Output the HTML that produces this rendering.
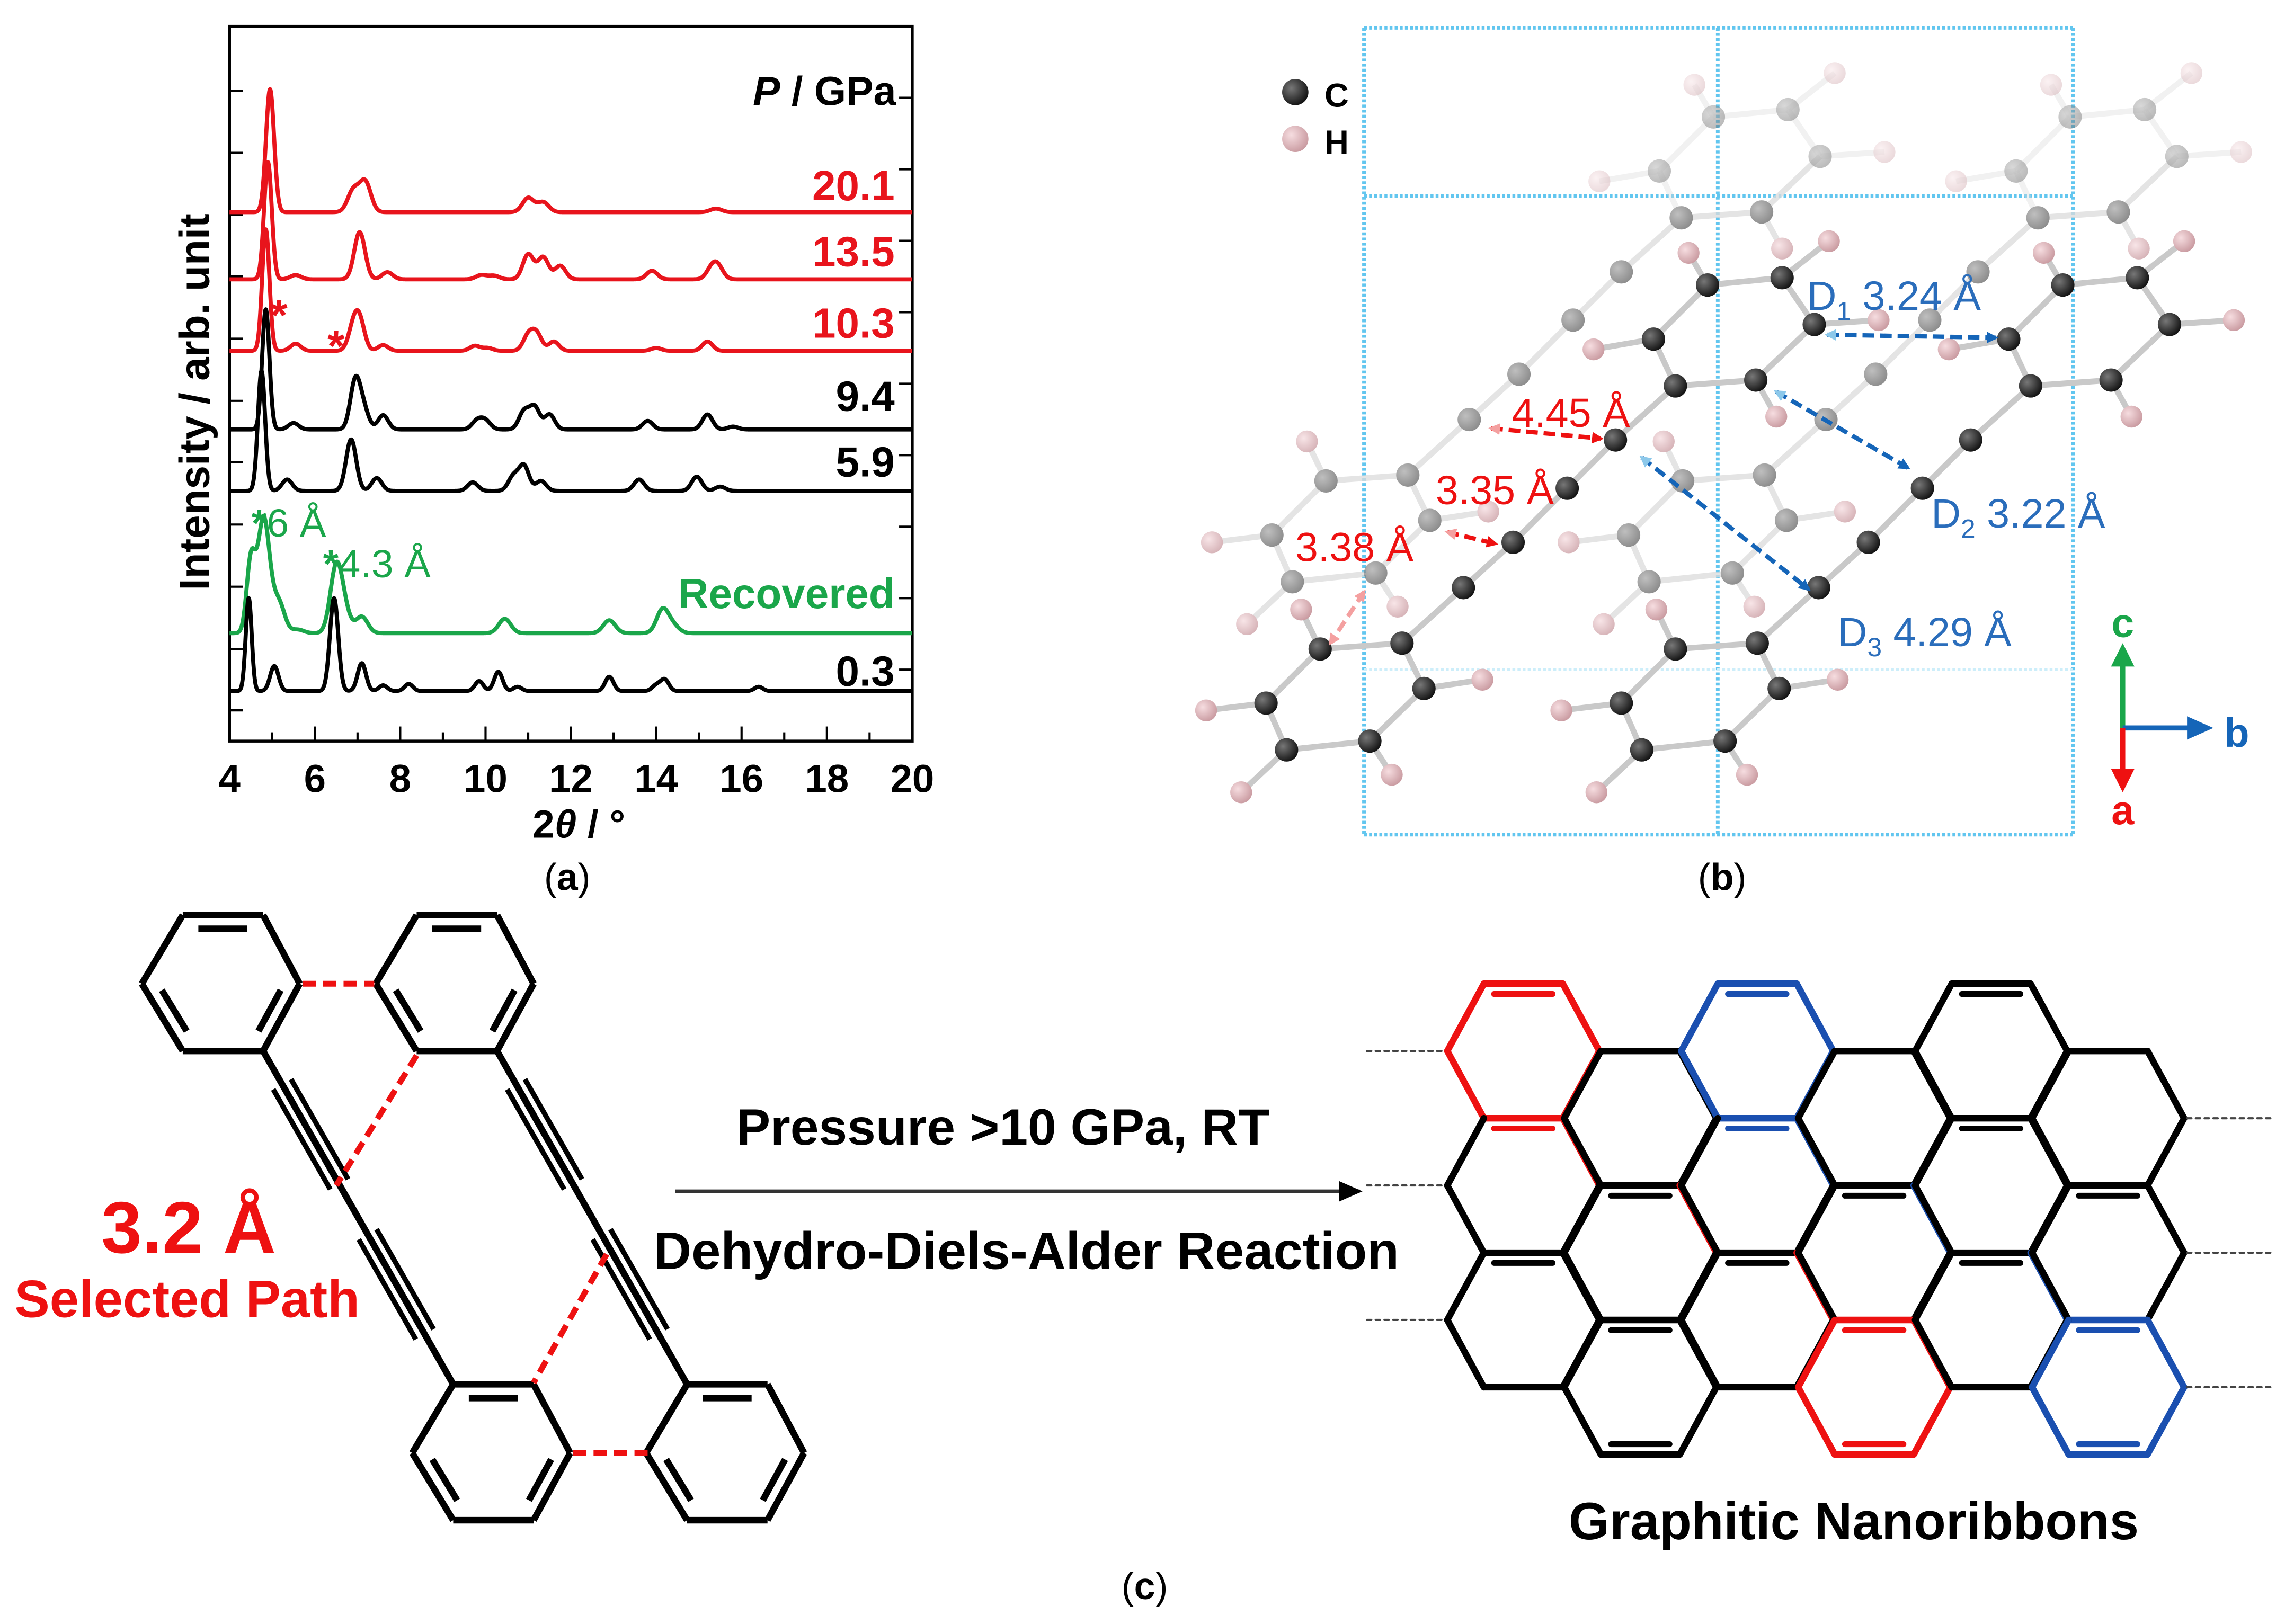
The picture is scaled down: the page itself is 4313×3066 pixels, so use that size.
<!DOCTYPE html>
<html><head><meta charset="utf-8"><style>
html,body{margin:0;padding:0;background:#fff;}
svg{display:block;}
text{font-family:"Liberation Sans",sans-serif;}
</style></head><body>
<svg id="root" width="4313" height="3066" viewBox="0 0 1563 1111" preserveAspectRatio="none" xmlns="http://www.w3.org/2000/svg">
<defs>
<radialGradient id="gc" cx="0.35" cy="0.35" r="0.7"><stop offset="0" stop-color="#777"/><stop offset="1" stop-color="#111"/></radialGradient>
<radialGradient id="gg" cx="0.35" cy="0.35" r="0.7"><stop offset="0" stop-color="#aaa"/><stop offset="1" stop-color="#666"/></radialGradient>
<radialGradient id="gh" cx="0.35" cy="0.35" r="0.7"><stop offset="0" stop-color="#f6dde0"/><stop offset="1" stop-color="#c99aa0"/></radialGradient>
<marker id="mBlue" markerWidth="8" markerHeight="8" refX="6" refY="4" orient="auto" markerUnits="userSpaceOnUse"><path d="M0,0 L8,4 L0,8 z" fill="#1565b8"/></marker>
<marker id="mLBlue" markerWidth="8" markerHeight="8" refX="6" refY="4" orient="auto-start-reverse" markerUnits="userSpaceOnUse"><path d="M0,0 L8,4 L0,8 z" fill="#8cc8ea"/></marker>
<marker id="mRed" markerWidth="8" markerHeight="8" refX="6" refY="4" orient="auto" markerUnits="userSpaceOnUse"><path d="M0,0 L8,4 L0,8 z" fill="#e11"/></marker>
<marker id="mLRed" markerWidth="8" markerHeight="8" refX="6" refY="4" orient="auto-start-reverse" markerUnits="userSpaceOnUse"><path d="M0,0 L8,4 L0,8 z" fill="#f4a0a0"/></marker>
<marker id="mArrow" markerWidth="16" markerHeight="14" refX="14" refY="7" orient="auto" markerUnits="userSpaceOnUse"><path d="M0,0 L16,7 L0,14 z" fill="#000"/></marker>
</defs>

<!-- Panel A -->
<g id="panelA">
  <rect x="157" y="18" width="467" height="489" fill="none" stroke="#000" stroke-width="2"/>
  <g id="xticks"></g>
  <g id="yticks"></g>
  <g id="traces"></g>
  <text x="396" y="573" font-size="27" font-weight="bold" text-anchor="middle">2<tspan font-style="italic">θ</tspan> / °</text>
  <text transform="translate(143,275) rotate(-90)" font-size="29" font-weight="bold" text-anchor="middle">Intensity / arb. unit</text>
  <text x="613" y="72" font-size="28" font-weight="bold" text-anchor="end"><tspan font-style="italic">P</tspan> / GPa</text>
  <text x="185" y="226" font-size="30" font-weight="bold" fill="#e8141c">*</text>
  <text x="224" y="247" font-size="30" font-weight="bold" fill="#e8141c">*</text>
  <text x="172" y="367" font-size="27" fill="#1aa64a"><tspan font-weight="bold">*</tspan>6 Å</text>
  <text x="221" y="395" font-size="27" fill="#1aa64a"><tspan font-weight="bold">*</tspan>4.3 Å</text>
  <text x="388" y="609" font-size="26" text-anchor="middle" font-family="Liberation Serif,serif">(<tspan font-weight="bold">a</tspan>)</text>
</g>

<!-- Panel B -->
<g id="panelB">
  <g id="cell" stroke="#62c6ef" stroke-width="2.5" stroke-dasharray="2 1.5" fill="none">
    <line x1="933" y1="19" x2="933" y2="571"/><line x1="1175" y1="19" x2="1175" y2="571"/><line x1="1418" y1="19" x2="1418" y2="571"/>
    <line x1="933" y1="19" x2="1418" y2="19"/><line x1="933" y1="134" x2="1418" y2="134"/><line x1="933" y1="571" x2="1418" y2="571"/>
    <line x1="933" y1="458" x2="1418" y2="458" stroke="#cdeefa" stroke-width="1.5"/>
  </g>
  <g id="mols"></g>
  <circle cx="886" cy="63" r="9" fill="url(#gc)"/>
  <text x="906" y="73" font-size="23" font-weight="bold">C</text>
  <circle cx="886" cy="95" r="9" fill="url(#gh)"/>
  <text x="906" y="105" font-size="23" font-weight="bold">H</text>
  <g stroke-width="3" stroke-dasharray="8 4" fill="none">
    <line x1="1250" y1="229" x2="1365" y2="231" stroke="#1565b8" marker-end="url(#mBlue)" marker-start="url(#mLBlue)"/>
    <line x1="1215" y1="268" x2="1305" y2="320" stroke="#1565b8" marker-end="url(#mBlue)" marker-start="url(#mLBlue)"/>
    <line x1="1123" y1="313" x2="1237" y2="403" stroke="#1565b8" marker-end="url(#mBlue)" marker-start="url(#mLBlue)"/>
    <line x1="1020" y1="293" x2="1095" y2="300" stroke="#e11" marker-end="url(#mRed)" marker-start="url(#mLRed)"/>
    <line x1="990" y1="364" x2="1023" y2="372" stroke="#e11" marker-end="url(#mRed)" marker-start="url(#mLRed)"/>
    <line x1="933" y1="405" x2="910" y2="440" stroke="#f4a0a0" marker-end="url(#mLRed)" marker-start="url(#mLRed)"/>
  </g>
  <text x="1236" y="212" font-size="28" fill="#2a6dbb">D<tspan font-size="18" dy="7">1</tspan><tspan dy="-7"> 3.24 Å</tspan></text>
  <text x="1321" y="361" font-size="28" fill="#2a6dbb">D<tspan font-size="18" dy="7">2</tspan><tspan dy="-7"> 3.22 Å</tspan></text>
  <text x="1257" y="442" font-size="28" fill="#2a6dbb">D<tspan font-size="18" dy="7">3</tspan><tspan dy="-7"> 4.29 Å</tspan></text>
  <text x="1034" y="292" font-size="28" fill="#e11">4.45 Å</text>
  <text x="982" y="345" font-size="28" fill="#e11">3.35 Å</text>
  <text x="886" y="384" font-size="28" fill="#e11">3.38 Å</text>
  <g stroke-width="3.5" fill="none">
    <line x1="1452" y1="498" x2="1452" y2="450" stroke="#1aa64a"/>
    <path d="M1444,456 L1452,440 L1460,456 z" fill="#1aa64a" stroke="none"/>
    <line x1="1452" y1="498" x2="1500" y2="498" stroke="#1565b8"/>
    <path d="M1496,490 L1514,498 L1496,506 z" fill="#1565b8" stroke="none"/>
    <line x1="1452" y1="498" x2="1452" y2="530" stroke="#e11"/>
    <path d="M1444,526 L1452,542 L1460,526 z" fill="#e11" stroke="none"/>
  </g>
  <text x="1452" y="436" font-size="28" font-weight="bold" fill="#1aa64a" text-anchor="middle">c</text>
  <text x="1530" y="511" font-size="28" font-weight="bold" fill="#1565b8" text-anchor="middle">b</text>
  <text x="1452" y="564" font-size="28" font-weight="bold" fill="#e11" text-anchor="middle">a</text>
  <text x="1178" y="609" font-size="26" text-anchor="middle" font-family="Liberation Serif,serif">(<tspan font-weight="bold">b</tspan>)</text>
</g>

<!-- Panel C -->
<g id="panelC">
  <g id="leftMol" stroke="#000" stroke-width="4.5" fill="none" stroke-linejoin="round"></g>
  <g stroke="#e11" stroke-width="4" stroke-dasharray="9 5">
    <line x1="207" y1="673" x2="256" y2="673"/><line x1="285" y1="722" x2="230" y2="811"/>
    <line x1="415" y1="858" x2="365" y2="946"/><line x1="392" y1="994" x2="443" y2="994"/>
  </g>
  <text x="129" y="857" font-size="50" font-weight="bold" fill="#e11" text-anchor="middle">3.2 Å</text>
  <text x="128" y="901" font-size="36" font-weight="bold" fill="#e11" text-anchor="middle">Selected Path</text>
  <line x1="462" y1="815" x2="930" y2="815" stroke="#333" stroke-width="2.5" marker-end="url(#mArrow)"/>
  <text x="686" y="783" font-size="35" font-weight="bold" text-anchor="middle">Pressure &gt;10 GPa, RT</text>
  <text x="702" y="868" font-size="36" font-weight="bold" text-anchor="middle">Dehydro-Diels-Alder Reaction</text>
  <g id="ribbon" stroke-width="4.5" fill="none" stroke-linecap="round"></g>
  <text x="1268" y="1053" font-size="36" font-weight="bold" text-anchor="middle">Graphitic Nanoribbons</text>
  <text x="783" y="1094" font-size="26" text-anchor="middle" font-family="Liberation Serif,serif">(<tspan font-weight="bold">c</tspan>)</text>
</g>
</svg>
<script>
const NS='http://www.w3.org/2000/svg';
// ---- chart data ----
const seriesNames=['20.1','13.5','10.3','9.4','5.9','Recovered','0.3'];
const seriesColors=['#e8141c','#e8141c','#e8141c','#000','#000','#1aa64a','#000'];
const baselines=[74.0,64.6,54.6,43.6,35.0,15.1,7.0];
const peaks201=[4.95,6.9,7.18,11.0,11.35,15.4];
const heights201=[17.2,3.0,4.2,2.0,1.4,0.5];
const peaks135=[4.9,5.55,7.05,7.7,9.9,10.2,11.0,11.35,11.75,13.9,15.3,15.45];
const heights135=[16.4,0.6,6.6,1.0,0.6,0.5,3.5,3.1,1.9,1.2,1.4,1.6];
const peaks103=[4.85,5.55,6.9,7.05,7.6,9.75,10.05,11.0,11.2,11.6,14.0,15.2];
const heights103=[17.0,1.0,3.0,3.9,0.8,0.7,0.4,2.1,2.3,1.3,0.4,1.3];
const peaks94=[4.85,5.5,6.95,7.15,7.6,9.8,10.0,10.9,11.15,11.5,13.8,15.2,15.8];
const heights94=[16.8,0.9,6.8,2.5,2.0,1.2,1.2,2.5,3.1,2.1,1.2,2.1,0.4];
const peaks59=[4.75,5.35,6.85,7.45,9.7,10.65,10.9,11.3,13.6,14.95,15.5];
const heights59=[16.8,1.6,7.2,1.8,1.2,2.0,3.5,1.4,1.6,2.0,0.6];
const peaksRec=[4.5,4.8,5.15,5.6,6.5,6.7,7.1,10.45,12.9,14.15,14.4];
const heightsRec=[9.8,16.0,4.3,0.5,9.0,2.5,2.3,2.0,1.8,3.3,1.0];
const peaks03=[4.45,5.05,6.45,7.1,7.6,8.2,9.85,10.3,10.75,12.9,14.0,14.2,16.4];
const heights03=[13.0,3.5,13.0,3.9,0.8,1.0,1.4,2.7,0.6,2.0,0.8,1.6,0.6];
const peakWidths=[0.095,0.09,0.085,0.085,0.085,0.1,0.07];
const xTickValues=[4,6,8,10,12,14,16,18,20];
const xMinorValues=[5,7,9,11,13,15,17,19];
const yLeftTicks=[91,82.3,73.6,65.0,56.3,47.6,39.0,30.3,21.6,12.9,4.3];
const yRightTicks=[90,80,70,60,50,40,30,20,10];
const labelY=[127,172,221,271,316,406,459];

const X0=157,X1=624,Y0=507,Y1=18;
function xs(v){return X0+(v-4)/(20-4)*(X1-X0);}
function ys(v){return Y0-v/100*(Y0-Y1);}

const allPeaks=[peaks201,peaks135,peaks103,peaks94,peaks59,peaksRec,peaks03];
const allHeights=[heights201,heights135,heights103,heights94,heights59,heightsRec,heights03];

const xt=document.getElementById('xticks');
xTickValues.forEach(v=>{
  const l=document.createElementNS(NS,'line');
  l.setAttribute('x1',xs(v));l.setAttribute('x2',xs(v));l.setAttribute('y1',Y0);l.setAttribute('y2',Y0-10);
  l.setAttribute('stroke','#000');l.setAttribute('stroke-width','1.5');
  
  
  xt.appendChild(l);
  const t=document.createElementNS(NS,'text');
  t.setAttribute('x',xs(v));t.setAttribute('y',542);t.setAttribute('font-size','27');t.setAttribute('font-weight','bold');t.setAttribute('text-anchor','middle');
  t.textContent=v;
  
  
  xt.appendChild(t);
});
xMinorValues.forEach(v=>{
  const l=document.createElementNS(NS,'line');
  l.setAttribute('x1',xs(v));l.setAttribute('x2',xs(v));l.setAttribute('y1',Y0);l.setAttribute('y2',Y0-6);
  l.setAttribute('stroke','#000');l.setAttribute('stroke-width','1.5');
  
  
  xt.appendChild(l);
});
const yt=document.getElementById('yticks');
yLeftTicks.forEach(v=>{
  const l=document.createElementNS(NS,'line');
  l.setAttribute('x1',X0);l.setAttribute('x2',X0+9);l.setAttribute('y1',ys(v));l.setAttribute('y2',ys(v));
  l.setAttribute('stroke','#000');l.setAttribute('stroke-width','1.5');
  
  
  yt.appendChild(l);
});
yRightTicks.forEach(v=>{
  const l=document.createElementNS(NS,'line');
  l.setAttribute('x1',X1);l.setAttribute('x2',X1-9);l.setAttribute('y1',ys(v));l.setAttribute('y2',ys(v));
  l.setAttribute('stroke','#000');l.setAttribute('stroke-width','1.5');
  
  
  yt.appendChild(l);
});
const tr=document.getElementById('traces');
seriesNames.forEach((name,i)=>{
  let d='';
  for(let x=4;x<=20.0001;x+=0.01){
    let v=baselines[i];
    const P=allPeaks[i],H=allHeights[i];
    for(let k=0;k<P.length;k++){const w=(k===0)?peakWidths[i]:peakWidths[i]*1.4;v+=H[k]*Math.exp(-0.5*Math.pow((x-P[k])/w,2));}
    d+=(d?'L':'M')+xs(x).toFixed(2)+','+ys(v).toFixed(2);
  }
  const p=document.createElementNS(NS,'path');
  p.setAttribute('d',d);p.setAttribute('fill','none');p.setAttribute('stroke',seriesColors[i]);p.setAttribute('stroke-width','2.8');p.setAttribute('stroke-linejoin','round');
  
  
  tr.appendChild(p);
  const t=document.createElementNS(NS,'text');
  t.setAttribute('x',612);t.setAttribute('y',labelY[i]+10);t.setAttribute('font-size','29');t.setAttribute('font-weight','bold');t.setAttribute('text-anchor','end');t.setAttribute('fill',seriesColors[i]);
  t.textContent=name;
  
  
  tr.appendChild(t);
});

// ---- panel B molecules ----
const ringL=[[0,0],[56,-4],[71,27],[34,63],[-23,69],[-37,37]];
const chain=[[98,-42],[132,-73],[169,-110],[202,-143]];
const ringU=[[243,-180],[298,-184],[338,-222],[316,-254],[265,-249],[228,-212]];
const hL=[[0,-13,-27],[2,40,-6],[3,15,23],[4,-31,29],[5,-41,5]];
const hU=[[1,14,25],[2,44,-3],[3,32,-25],[4,-13,-22],[5,-41,7]];
const mols=[[907,329,'g'],[1151,329,'g'],[903,444,'c'],[1146,444,'c']];
const mg=document.getElementById('mols');
mols.forEach(([ax,ay,type])=>{
  const g=document.createElementNS(NS,'g');
  
  
  if(type==='g')g.setAttribute('opacity','0.75');
  mg.appendChild(g);
  const P=a=>[ax+a[0],ay+a[1]];
  const bonds=[];const hs=[];
  const L=ringL.map(P),C=chain.map(P),U=ringU.map(P);
  for(let i=0;i<6;i++){bonds.push([L[i],L[(i+1)%6]]);bonds.push([U[i],U[(i+1)%6]]);}
  bonds.push([L[1],C[0]]);for(let i=0;i<3;i++)bonds.push([C[i],C[i+1]]);bonds.push([C[3],U[0]]);
  hL.forEach(h=>{const a=L[h[0]];const p=[a[0]+h[1],a[1]+h[2]];bonds.push([a,p]);hs.push(p);});
  hU.forEach(h=>{const a=U[h[0]];const p=[a[0]+h[1],a[1]+h[2]];bonds.push([a,p]);hs.push(p);});
  bonds.forEach(b=>{
    const l=document.createElementNS(NS,'line');
    l.setAttribute('x1',b[0][0]);l.setAttribute('y1',b[0][1]);l.setAttribute('x2',b[1][0]);l.setAttribute('y2',b[1][1]);
    l.setAttribute('stroke',type==='c'?'#c9c9c9':'#dcdcdc');l.setAttribute('stroke-width','4');
    if(b[0][1]<134&&type==='g')l.setAttribute('opacity','0.5');
    
    
    g.appendChild(l);
  });
  hs.forEach(p=>{
    const c=document.createElementNS(NS,'circle');
    c.setAttribute('cx',p[0]);c.setAttribute('cy',p[1]);c.setAttribute('r','7.5');c.setAttribute('fill','url(#gh)');
    if(p[1]<134&&type==='g')c.setAttribute('opacity','0.5');
    
    
    g.appendChild(c);
  });
  L.concat(C,U).forEach(p=>{
    const c=document.createElementNS(NS,'circle');
    c.setAttribute('cx',p[0]);c.setAttribute('cy',p[1]);c.setAttribute('r','8');c.setAttribute('fill',type==='c'?'url(#gc)':'url(#gg)');
    if(p[1]<134&&type==='g')c.setAttribute('opacity','0.6');
    
    
    g.appendChild(c);
  });
});

// ---- panel C left molecule ----
const lm=document.getElementById('leftMol');
function addLine(parent,x1,y1,x2,y2,color,w,name){
  const l=document.createElementNS(NS,'line');
  l.setAttribute('x1',x1);l.setAttribute('y1',y1);l.setAttribute('x2',x2);l.setAttribute('y2',y2);
  if(color)l.setAttribute('stroke',color);
  if(w)l.setAttribute('stroke-width',w);
  
  
  parent.appendChild(l);
}
const benzenes=[[125,626],[285,626],[310,947],[470,947]];
benzenes.forEach(([x,y])=>{
  const v=[[x,y],[x+55,y],[x+80,y+47],[x+55,y+93],[x,y+93],[x-28,y+47]];
  const cx=x+27,cy=y+47;
  for(let i=0;i<6;i++){
    const a=v[i],b=v[(i+1)%6];
    addLine(lm,a[0],a[1],b[0],b[1],null,null,'ring-bond');
    if(i%2===0){
      const s=0.8;const ia=[cx+(a[0]-cx)*s,cy+(a[1]-cy)*s],ib=[cx+(b[0]-cx)*s,cy+(b[1]-cy)*s];
      const f=0.12;
      addLine(lm,ia[0]+(ib[0]-ia[0])*f,ia[1]+(ib[1]-ia[1])*f,ib[0]-(ib[0]-ia[0])*f,ib[1]-(ib[1]-ia[1])*f,null,null,'double-bond-inner');
    }
  }
});
[[180,719,310,947],[340,719,470,947]].forEach(([x1,y1,x2,y2])=>{
  addLine(lm,x1,y1,x2,y2,null,null,'alkyne-chain');
  const dx=x2-x1,dy=y2-y1,len=Math.hypot(dx,dy),nx=-dy/len*7,ny=dx/len*7;
  [[0.1,0.4],[0.55,0.85]].forEach(([a,b])=>{
    addLine(lm,x1+dx*a+nx,y1+dy*a+ny,x1+dx*b+nx,y1+dy*b+ny,null,'3.5','triple-bond');
    addLine(lm,x1+dx*a-nx,y1+dy*a-ny,x1+dx*b-nx,y1+dy*b-ny,null,'3.5','triple-bond');
  });
});

// ---- panel C ribbon ----
const rb=document.getElementById('ribbon');
const colX=[1042,1122,1202,1282,1362,1442];
const edgeColor={};
function hexV(cx,cy){return [[cx-27,cy-46],[cx+27,cy-46],[cx+52,cy],[cx+27,cy+46],[cx-27,cy+46],[cx-52,cy]];}
function key(a,b){const p=[a.join(','),b.join(',')].sort();return p[0]+'|'+p[1];}
const hexes=[];
colX.forEach((cx,ci)=>{const yy=ci%2===0?[719,811,903]:[765,857,949];yy.forEach(cy=>hexes.push([cx,cy]));});
const edges={};
hexes.forEach(([cx,cy])=>{const v=hexV(cx,cy);for(let i=0;i<6;i++){edges[key(v[i],v[(i+1)%6])]=[v[i],v[(i+1)%6]];}});
const colored=[[1042,719,'#e11'],[1282,949,'#e11'],[1202,719,'#1a4fb0'],[1442,949,'#1a4fb0']];
colored.forEach(([cx,cy,c])=>{const v=hexV(cx,cy);for(let i=0;i<6;i++)edgeColor[key(v[i],v[(i+1)%6])]=c;});
const zig=[[1069,765],[1094,811],[1149,811],[1174,857],[1229,857],[1254,903]];
for(let i=0;i<zig.length-1;i++){edgeColor[key(zig[i],zig[i+1])]='#e11';const a=[zig[i][0]+160,zig[i][1]],b=[zig[i+1][0]+160,zig[i+1][1]];edgeColor[key(a,b)]='#1a4fb0';}
Object.keys(edges).forEach(k=>{const [a,b]=edges[k];addLine(rb,a[0],a[1],b[0],b[1],edgeColor[k]||'#000',null,'ribbon-bond');});
const doubles=[[1042,673],[1202,673],[1362,673],[1042,765],[1202,765],[1362,765],[1122,811],[1282,811],[1442,811],[1042,857],[1202,857],[1362,857],[1122,903],[1282,903],[1442,903],[1122,995],[1282,995],[1442,995]];
doubles.forEach(([cx,y])=>{
  const k=key([cx-27,y],[cx+27,y]);const c=edgeColor[k]||'#000';
  addLine(rb,cx-20,y+(y===995?-7:7),cx+20,y+(y===995?-7:7),c,'4','ribbon-double-bond');
});
[719,811,903].forEach(y=>{const l=document.createElementNS(NS,'line');l.setAttribute('x1',935);l.setAttribute('x2',988);l.setAttribute('y1',y);l.setAttribute('y2',y);l.setAttribute('stroke','#444');l.setAttribute('stroke-width','1.5');l.setAttribute('stroke-dasharray','3 3');


rb.appendChild(l);});
[765,857,949].forEach(y=>{const l=document.createElementNS(NS,'line');l.setAttribute('x1',1496);l.setAttribute('x2',1555);l.setAttribute('y1',y);l.setAttribute('y2',y);l.setAttribute('stroke','#444');l.setAttribute('stroke-width','1.5');l.setAttribute('stroke-dasharray','3 3');


rb.appendChild(l);});
</script>
</body></html>
